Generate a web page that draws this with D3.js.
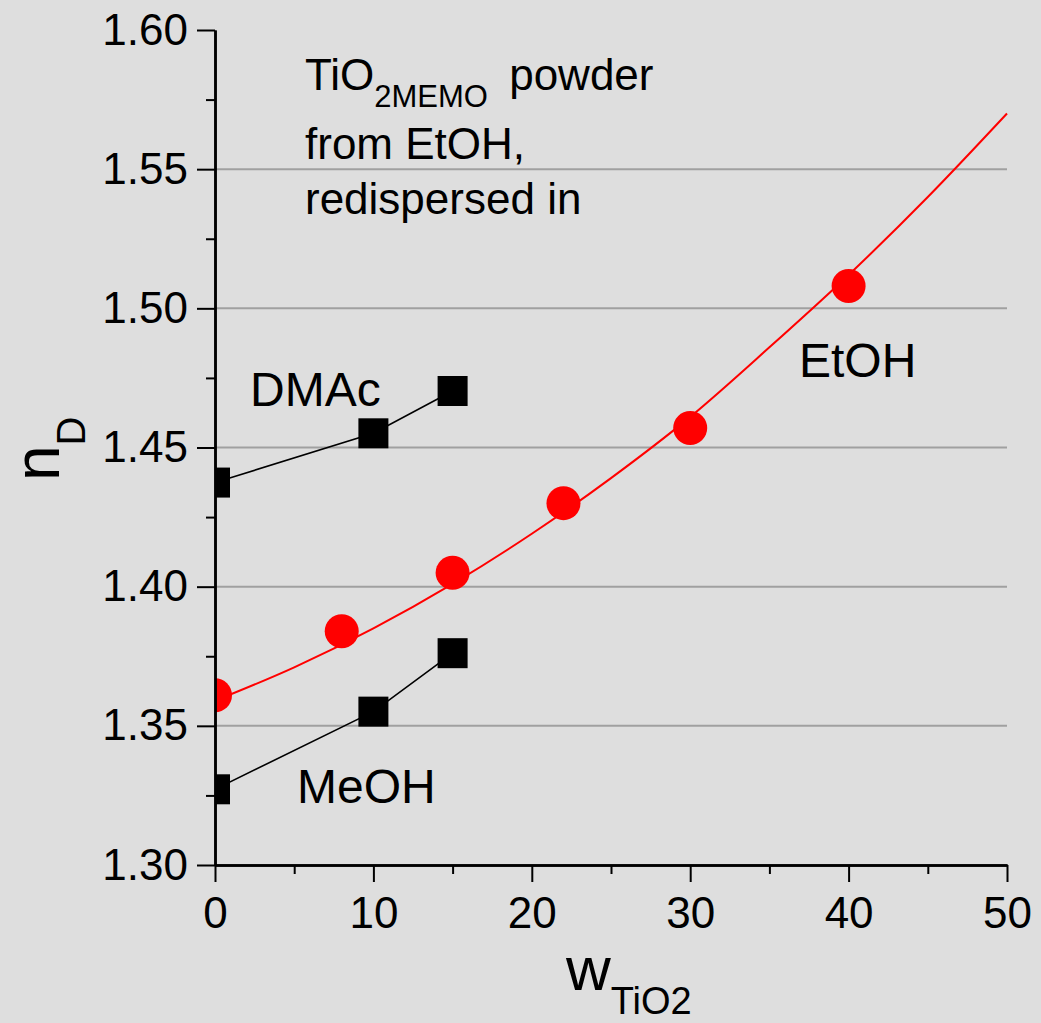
<!DOCTYPE html>
<html>
<head>
<meta charset="utf-8">
<script src="https://cdn.jsdelivr.net/npm/d3@7"></script>
<style>
  body { margin: 0; background: #dedede; }
  svg { display: block; font-family: "Liberation Sans", Arial, sans-serif; }
</style>
</head>
<body>
<div id="chart"></div>
<script>
// measured points
const etohX = [0, 8, 15, 22, 30, 40];
const etohY = [1.361, 1.384, 1.405, 1.430, 1.457, 1.508];
const dmacX = [0, 10, 15];
const dmacY = [1.4374, 1.4551, 1.4703];
const meohX = [0, 10, 15];
const meohY = [1.3272, 1.3551, 1.3761];
// red fit curve
const fitX = [0, 5, 10, 15, 20, 25, 30, 35, 40, 45, 50];
const fitY = [1.359, 1.371, 1.385, 1.401, 1.419, 1.439, 1.461, 1.486, 1.512, 1.540, 1.570];

const xTicks = [0, 10, 20, 30, 40, 50];
const yTicks = [1.30, 1.35, 1.40, 1.45, 1.50, 1.55, 1.60];
const gridValues = [1.35, 1.40, 1.45, 1.50, 1.55];

const W = 1041, H = 1023;
const margin = {top: 30, right: 34, bottom: 158, left: 215};
const width = W - margin.left - margin.right;
const height = H - margin.top - margin.bottom;

const svg = d3.select("#chart").append("svg")
    .attr("width", W)
    .attr("height", H);

svg.append("rect").attr("width", W).attr("height", H).attr("fill", "#dedede");

const g = svg.append("g").attr("transform", `translate(${margin.left},${margin.top})`);

const x = d3.scaleLinear().domain([0, 50]).range([0, width]);
const y = d3.scaleLinear().domain([1.30, 1.60]).range([height, 0]);

svg.append("defs").append("clipPath").attr("id", "plotclip")
    .append("rect")
    .attr("x", 0).attr("y", -30)
    .attr("width", width + 30).attr("height", height + 60);

// gridlines
g.append("g").selectAll("line")
    .data(gridValues)
    .enter().append("line")
    .attr("x1", 0).attr("x2", width)
    .attr("y1", d => y(d)).attr("y2", d => y(d))
    .attr("stroke", "#a0a0a0")
    .attr("stroke-width", 2);

const plot = g.append("g").attr("clip-path", "url(#plotclip)");

const line = d3.line().x(d => x(d[0])).y(d => y(d[1]));

plot.append("path")
    .datum(fitX.map((v, i) => [v, fitY[i]]))
    .attr("d", line.curve(d3.curveMonotoneX))
    .attr("fill", "none")
    .attr("stroke", "#ff0000")
    .attr("stroke-width", 2);

const straight = d3.line().x(d => x(d[0])).y(d => y(d[1]));
[[dmacX, dmacY], [meohX, meohY]].forEach(([xs, ys]) => {
    plot.append("path")
        .datum(xs.map((v, i) => [v, ys[i]]))
        .attr("d", straight)
        .attr("fill", "none")
        .attr("stroke", "#000")
        .attr("stroke-width", 1.6);
});

plot.selectAll("circle.etoh")
    .data(etohX.map((v, i) => [v, etohY[i]]))
    .enter().append("circle")
    .attr("class", "etoh")
    .attr("cx", d => x(d[0]))
    .attr("cy", d => y(d[1]))
    .attr("r", 17)
    .attr("fill", "#ff0000");

const sq = 30;
plot.selectAll("rect.sq")
    .data(dmacX.map((v, i) => [v, dmacY[i]]).concat(meohX.map((v, i) => [v, meohY[i]])))
    .enter().append("rect")
    .attr("class", "sq")
    .attr("x", d => x(d[0]) - sq / 2)
    .attr("y", d => y(d[1]) - sq / 2)
    .attr("width", sq)
    .attr("height", sq)
    .attr("fill", "#000");

// axes
g.append("g")
    .call(d3.axisLeft(y).tickValues(yTicks).tickFormat(d3.format(".2f"))
        .tickSize(18).tickSizeOuter(0).tickPadding(9));
g.append("g")
    .call(d3.axisLeft(y).tickValues(d3.range(1.325, 1.6, 0.05)).tickFormat("")
        .tickSize(9).tickSizeOuter(0));

g.append("g")
    .attr("transform", `translate(0,${height})`)
    .call(d3.axisBottom(x).tickValues(xTicks).tickSize(17).tickSizeOuter(0).tickPadding(15));
g.append("g")
    .attr("transform", `translate(0,${height})`)
    .call(d3.axisBottom(x).tickValues([5, 15, 25, 35, 45]).tickFormat("")
        .tickSize(9).tickSizeOuter(0));

g.selectAll(".domain").attr("stroke", "#000").attr("stroke-width", 2.5);
g.selectAll(".tick line").attr("stroke", "#000").attr("stroke-width", 2);
g.selectAll(".tick text").attr("font-size", 44).attr("fill", "#000")
    .attr("font-family", "'Liberation Sans', Arial, sans-serif");

// axis titles
const xt = svg.append("text")
    .attr("x", 566).attr("y", 990)
    .attr("font-size", 62).attr("fill", "#000");
xt.append("tspan").text("w");
xt.append("tspan").attr("font-size", 38).attr("dy", 24).text("TiO2");

const yt = svg.append("text")
    .attr("transform", "translate(59,481) rotate(-90)")
    .attr("font-size", 64).attr("fill", "#000");
yt.append("tspan").text("n");
yt.append("tspan").attr("font-size", 40).attr("dy", 26).text("D");

// annotations
const note = svg.append("text")
    .attr("x", 305).attr("y", 90)
    .attr("font-size", 44).attr("fill", "#000");
note.append("tspan").text("TiO");
note.append("tspan").attr("font-size", 31).attr("dy", 17).text("2MEMO");
note.append("tspan").attr("dy", -17).attr("dx", 9).text(" powder");
svg.append("text").attr("x", 305).attr("y", 159).attr("font-size", 44).text("from EtOH,");
svg.append("text").attr("x", 305).attr("y", 214).attr("font-size", 44).text("redispersed in");

svg.append("text").attr("x", 250).attr("y", 406).attr("font-size", 48).text("DMAc");
svg.append("text").attr("x", 297).attr("y", 803).attr("font-size", 48).text("MeOH");
svg.append("text").attr("x", 799).attr("y", 377).attr("font-size", 48).text("EtOH");
</script>
</body>
</html>
